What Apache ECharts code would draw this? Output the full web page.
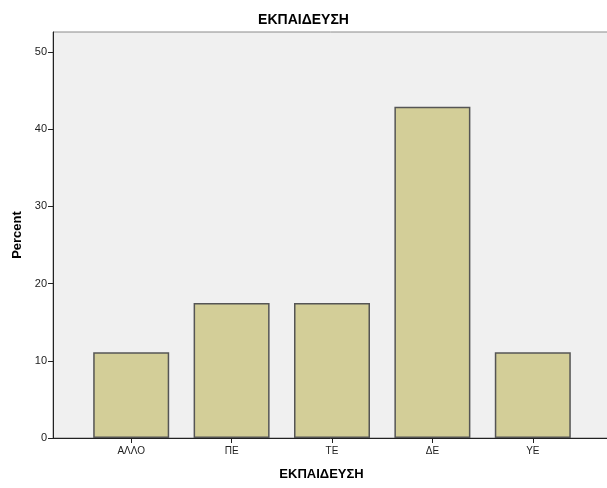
<!DOCTYPE html>
<html>
<head>
<meta charset="utf-8">
<script src="https://cdn.jsdelivr.net/npm/echarts@6/dist/echarts.min.js"></script>
<style>html,body{margin:0;padding:0;background:#fff;}#c{width:607px;height:488px;}</style>
</head>
<body>
<div id="c"></div>
<script>
const categories = ['ΑΛΛΟ', 'ΠΕ', 'ΤΕ', 'ΔΕ', 'ΥΕ'];
const percents = [11.1, 17.5, 17.5, 42.9, 11.1];
const yTicks = [0, 10, 20, 30, 40, 50];

const chart = echarts.init(document.getElementById('c'), null, {renderer: 'canvas'});
const font = 'Liberation Sans, Arial, sans-serif';
const yMax = 52.6;
chart.setOption({
  animation: false,
  title: {
    text: 'ΕΚΠΑΙΔΕΥΣΗ', left: 'center', top: 8,
    textStyle: {fontFamily: font, fontSize: 14, fontWeight: 'bold', color: '#000'}
  },
  grid: [
    {left: 53, right: -1, top: 32, bottom: 50, show: true, backgroundColor: '#f0f0f0', borderColor: '#8a8a8a', borderWidth: 1, containLabel: false, outerBoundsMode: 'none'},
    {left: 81, width: 502, top: 32, bottom: 50, containLabel: false, outerBoundsMode: 'none'}
  ],
  xAxis: [
    {type: 'category', gridIndex: 0, data: [''], axisLine: {show: true, lineStyle: {color: '#222', width: 1}},
     axisTick: {show: false}, axisLabel: {show: false}, splitLine: {show: false},
     name: 'ΕΚΠΑΙΔΕΥΣΗ', nameLocation: 'middle', nameGap: 30,
     nameTextStyle: {fontFamily: font, fontSize: 13, fontWeight: 'bold', color: '#000', padding: [0, 0, 0, -18]}},
    {type: 'category', gridIndex: 1, data: categories, axisLine: {show: false},
     axisTick: {show: true, alignWithLabel: true, length: 5, lineStyle: {color: '#222'}},
     axisLabel: {fontFamily: font, fontSize: 10, color: '#222', margin: 8}}
  ],
  yAxis: [
    {type: 'value', gridIndex: 0, min: 0, max: yMax,
     axisLine: {show: true, lineStyle: {color: '#222', width: 1}},
     axisTick: {show: true, length: 5, customValues: yTicks, lineStyle: {color: '#222'}},
     axisLabel: {customValues: yTicks, fontFamily: font, fontSize: 11, color: '#222', margin: 6},
     splitLine: {show: false},
     name: 'Percent', nameLocation: 'middle', nameGap: 29, nameRotate: 90,
     nameTextStyle: {fontFamily: font, fontSize: 13, fontWeight: 'bold', color: '#000'}},
    {type: 'value', gridIndex: 1, min: 0, max: yMax, show: false, splitLine: {show: false}}
  ],
  series: [{
    type: 'bar', xAxisIndex: 1, yAxisIndex: 1, data: percents, barWidth: 76,
    itemStyle: {color: '#d3ce98', borderColor: '#555', borderWidth: 1.5}
  }]
});
</script>
</body>
</html>
